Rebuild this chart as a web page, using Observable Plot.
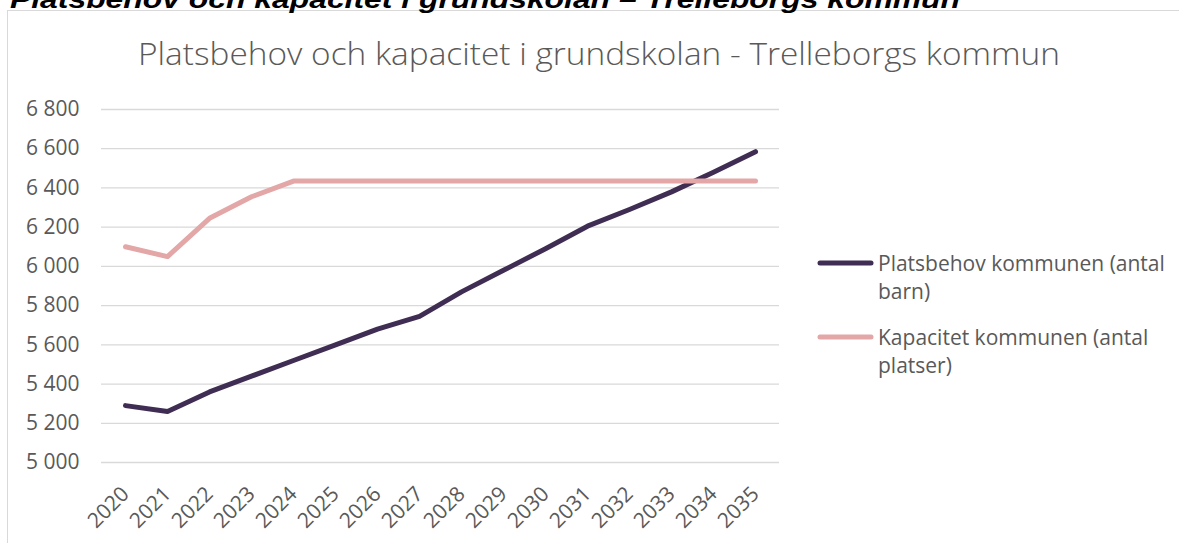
<!DOCTYPE html>
<html>
<head>
<meta charset="utf-8">
<script src="https://cdn.jsdelivr.net/npm/d3@7"></script>
<script src="https://cdn.jsdelivr.net/npm/@observablehq/plot@0.6"></script>
<style>
  html, body { margin: 0; padding: 0; background: #fff; }
  #wrap { position: relative; width: 1179px; height: 543px; overflow: hidden; }
  #frame { position: absolute; left: 7px; top: 10px; width: 1200px; height: 600px;
           border-left: 1.5px solid #d9d9d9; border-top: 1.5px solid #d9d9d9; box-sizing: border-box; }
  #chart { position: absolute; left: 0; top: 0; }
</style>
</head>
<body>
<div id="wrap">
  <div id="frame"></div>
  <div id="chart"></div>
</div>
<script>
const years = ["2020","2021","2022","2023","2024","2025","2026","2027","2028","2029","2030","2031","2032","2033","2034","2035"];
const platsbehov = [5290, 5260, 5360, 5440, 5520, 5600, 5680, 5745, 5870, 5980, 6090, 6205, 6290, 6380, 6480, 6585];
const kapacitet  = [6100, 6050, 6245, 6355, 6435, 6435, 6435, 6435, 6435, 6435, 6435, 6435, 6435, 6435, 6435, 6435];
const yTicks = [5000, 5200, 5400, 5600, 5800, 6000, 6200, 6400, 6600, 6800];
const seriesNames = ["Platsbehov kommunen (antal barn)", "Kapacitet kommunen (antal platser)"];
const seriesColors = ["#3f2d53", "#e2a7a6"];
const legendLines = [["Platsbehov kommunen (antal", "barn)"], ["Kapacitet kommunen (antal", "platser)"]];
const pageHeading = "Platsbehov och kapacitet i grundskolan – Trelleborgs kommun";
const chartTitle = "Platsbehov och kapacitet i grundskolan - Trelleborgs kommun";

const rows = [];
years.forEach((yr, i) => {
  rows.push({year: yr, value: platsbehov[i], series: seriesNames[0]});
});
years.forEach((yr, i) => {
  rows.push({year: yr, value: kapacitet[i], series: seriesNames[1]});
});

const loc = d3.formatLocale({decimal: ",", thousands: " ", grouping: [3], currency: ["", " kr"]});
const fmt = loc.format(",d");

const plot = Plot.plot({
  width: 1179,
  height: 543,
  marginLeft: 101,
  marginRight: 400,
  marginTop: 109,
  marginBottom: 81,
  style: {fontFamily: "'Open Sans', sans-serif", fontSize: "21px", color: "#595959", background: "transparent", overflow: "visible"},
  x: {type: "point", domain: years, padding: 0.5, label: null},
  y: {domain: [5000, 6800], label: null},
  color: {domain: seriesNames, range: seriesColors},
  marks: [
    Plot.ruleY(yTicks, {stroke: "#d9d9d9", strokeWidth: 1.3}),
    Plot.axisY(yTicks, {tickSize: 0, tickPadding: 22, tickFormat: fmt, fontSize: 21, label: null}),
    Plot.axisX({tickSize: 0, tickRotate: -45, tickPadding: 28, fontSize: 21, label: null}),
    Plot.line(rows, {x: "year", y: "value", z: "series", stroke: "series", strokeWidth: 5,
                     strokeLinecap: "round", strokeLinejoin: "round"})
  ]
});
document.getElementById("chart").appendChild(plot);

const svg = d3.select(plot);
// page heading (clipped at top)
svg.append("text").attr("x", 10).attr("y", 8).attr("text-anchor", "start")
  .attr("font-family", "'Liberation Sans', Arial, sans-serif").attr("font-weight", "bold").attr("font-style", "italic")
  .attr("font-size", 26).attr("fill", "#000").attr("textLength", 950).attr("lengthAdjust", "spacingAndGlyphs")
  .text(pageHeading);
// chart title
svg.append("text").attr("x", 138).attr("y", 65).attr("text-anchor", "start")
  .attr("font-family", "'Open Sans', sans-serif").attr("font-weight", 300)
  .attr("font-size", 32).attr("fill", "#595959").attr("textLength", 922).attr("lengthAdjust", "spacingAndGlyphs")
  .text(chartTitle);
// legend
const lg = svg.append("g").attr("text-anchor", "start");
const legY = [263, 337];
legendLines.forEach((lines, i) => {
  lg.append("line").attr("x1", 820).attr("x2", 871).attr("y1", legY[i]).attr("y2", legY[i])
    .attr("stroke", seriesColors[i]).attr("stroke-width", 5).attr("stroke-linecap", "round");
  lines.forEach((t, j) => {
    lg.append("text").attr("x", 878).attr("y", legY[i] + 8 + j * 27.5)
      .attr("font-family", "'Open Sans', sans-serif").attr("font-size", 21).attr("fill", "#595959")
      .text(t);
  });
});
</script>
</body>
</html>
